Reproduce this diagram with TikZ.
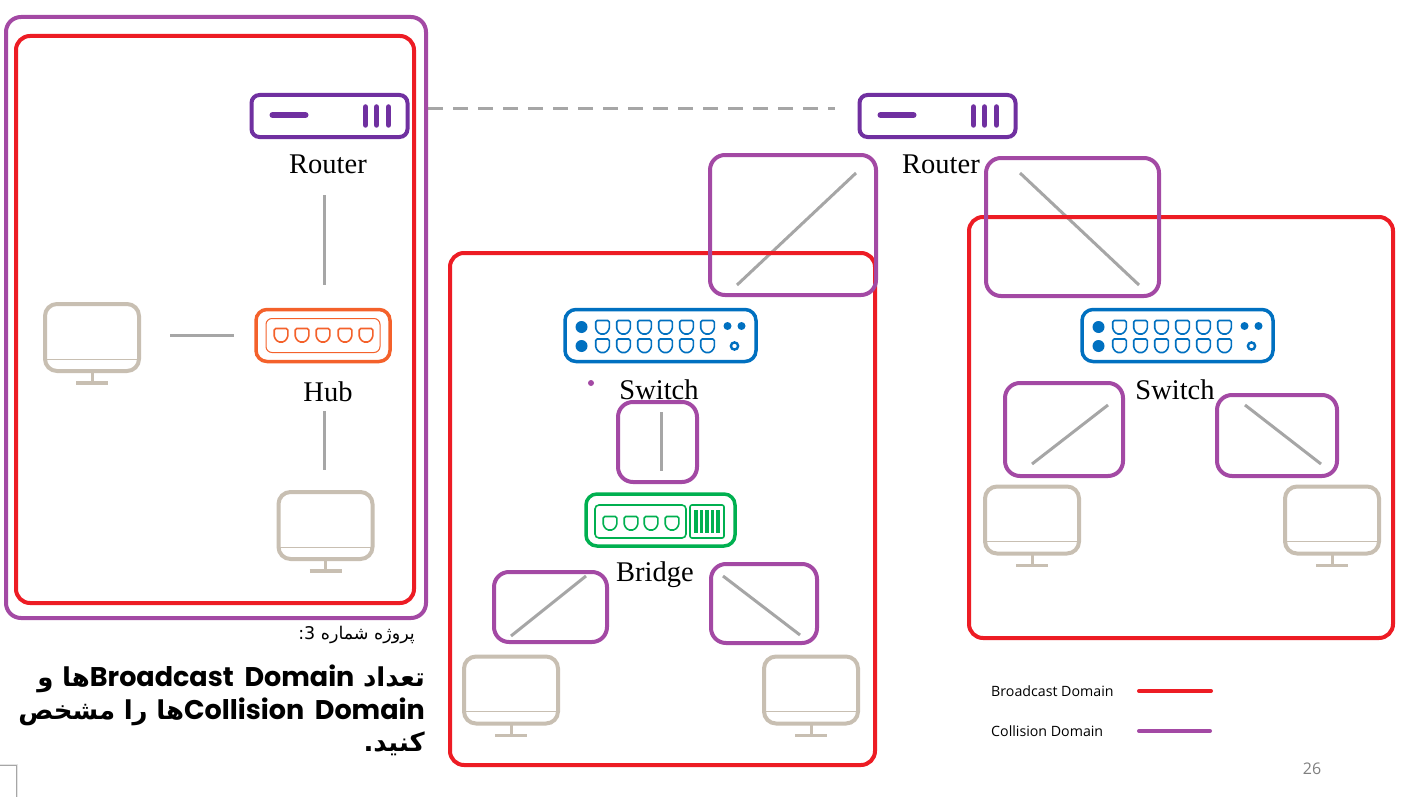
\documentclass[tikz,border=0pt]{standalone}
\usepackage{fontspec}
\setmainfont{Liberation Serif}
\newfontfamily\arabicfont[Script=Arabic]{DejaVu Sans}
\newfontfamily\latinblack{Poppins}
\newfontfamily\legendfont{Open Sans}
\TeXXeTstate=1
\definecolor{broadred}{HTML}{ED1C24}
\definecolor{collpurple}{HTML}{A349A4}
\definecolor{routerpurple}{HTML}{7030A0}
\definecolor{hubtone}{HTML}{F4612B}
\definecolor{switchblue}{HTML}{0070C0}
\definecolor{bridgegreen}{HTML}{00B050}
\definecolor{pcbeige}{HTML}{C8BFB2}
\definecolor{linkgray}{HTML}{A6A6A6}
\usetikzlibrary{
  positioning
}

\tikzset{
  port/.pic={
    \draw[line width=1.6pt, rounded corners=1.5pt] (-6.8,-6.5) -- (6.8,-6.5) -- (6.8,2.5) -- (3,7) -- (-3,7) -- (-6.8,2.5) -- cycle;
  },
  routerparts/.pic={
    \draw[routerpurple, line width=6pt, line cap=round] (-57,-1) -- (-24,-1);
    \foreach \xb in {36,47,59} {
      \draw[routerpurple, line width=5.5pt, line cap=round] (\xb,-9) -- (\xb,9);
    }
  },
  pcparts/.pic={
    \draw[pcbeige, line width=1pt] (-46,21.5) -- (46,21.5);
    \draw[pcbeige, line width=3pt] (0,33) -- (0,45);
    \draw[pcbeige, line width=3.5pt] (-16,45.5) -- (16,45.5);
  },
  switchparts/.pic={
    \foreach \xp in {-58,-37,-16,5,26,47} {
      \pic[switchblue] at (\xp,-8.5) {port};
      \pic[switchblue] at (\xp,10) {port};
    }
    \foreach \yp in {-8.5,10.5} {
      \fill[switchblue] (-79,\yp) circle (6);
    }
    \foreach \xp in {67,81} {
      \fill[switchblue] (\xp,-9.5) circle (4);
    }
    \draw[switchblue, line width=2.4pt] (74,10.5) circle (3.6);
  }
}

\begin{document}
\begin{tikzpicture}[
  x=1pt, y=-1pt,
  font=\fontsize{28.5}{32}\selectfont,
  broaddom/.style={
    rectangle, rounded corners=14pt, draw=broadred, line width=4pt, inner sep=0pt
  },
  colldom/.style={
    rectangle, rounded corners=15pt, draw=collpurple, line width=4pt, inner sep=0pt
  },
  routerbox/.style={
    rectangle, rounded corners=8pt, draw=routerpurple, line width=4pt, inner sep=0pt,
    minimum width=156pt, minimum height=42pt
  },
  hubbox/.style={
    rectangle, rounded corners=11pt, draw=hubtone, line width=3.5pt, inner sep=0pt,
    minimum width=134pt, minimum height=52pt
  },
  switchbox/.style={
    rectangle, rounded corners=11pt, draw=switchblue, line width=3.5pt, inner sep=0pt,
    minimum width=191pt, minimum height=52pt
  },
  bridgebox/.style={
    rectangle, rounded corners=11pt, draw=bridgegreen, line width=3.5pt, inner sep=0pt,
    minimum width=149pt, minimum height=52pt
  },
  pcbox/.style={
    rectangle, rounded corners=12pt, draw=pcbeige, line width=4pt, inner sep=0pt,
    minimum width=94pt, minimum height=67pt
  },
  link/.style={draw=linkgray, line width=3pt},
  devlabel/.style={inner sep=0pt, text=black},
  legendtext/.style={inner sep=0pt, anchor=west, font=\legendfont\fontsize{14.2}{16}\selectfont}
]

\useasboundingbox (0,0) rectangle (1423,797);
\fill[white] (0,0) rectangle (1423,797);

\node[routerbox] (router1) at (329.5,116) {};
\pic at (router1) {routerparts};
\node[devlabel] (router1label) at (328,164) {Router};
\node[routerbox] (router2) at (937.5,116) {};
\pic at (router2) {routerparts};
\node[devlabel] (router2label) at (941,164) {Router};

\node[hubbox] (hub1) at (323,335.5) {};
\node[rectangle, rounded corners=6pt, draw=hubtone, line width=1pt, inner sep=0pt,
  minimum width=114pt, minimum height=34pt] (hubinner) at (hub1) {};
\foreach \xp in {281,302,323,345,366} {
  \pic[hubtone] at (\xp,335) {port};
}
\node[devlabel] (hub1label) at (328,392) {Hub};

\node[switchbox] (switch1) at (660.5,335.5) {};
\pic at (switch1) {switchparts};
\node[devlabel] (switch1label) at (659,390) {Switch};
\node[switchbox] (switch2) at (1177.5,335.5) {};
\pic at (switch2) {switchparts};
\node[devlabel] (switch2label) at (1175,390) {Switch};

\node[bridgebox] (bridge1) at (660.5,520) {};
\node[rectangle, rounded corners=4pt, draw=bridgegreen, line width=1.6pt, inner sep=0pt,
  minimum width=91pt, minimum height=33pt] (bridgeports) at (640.5,521.5) {};
\node[rectangle, rounded corners=2pt, draw=bridgegreen, line width=1.6pt, inner sep=0pt,
  minimum width=34pt, minimum height=33pt] (bridgebars) at (707,521.5) {};
\foreach \xp in {610,631,651,672} {
  \pic[bridgegreen] at (\xp,523) {port};
}
\foreach \xp in {696,701.5,707,712.5,718} {
  \draw[bridgegreen, line width=3.4pt] (\xp,510) -- (\xp,533);
}
\node[devlabel] (bridge1label) at (655,575) {Bridge};

\node[pcbox] (pc1) at (92,337.5) {};
\pic at (pc1) {pcparts};
\node[pcbox] (pc2) at (325.5,525.5) {};
\pic at (pc2) {pcparts};
\node[pcbox] (pc3) at (511,690) {};
\pic at (pc3) {pcparts};
\node[pcbox] (pc4) at (811,690) {};
\pic at (pc4) {pcparts};
\node[pcbox] (pc5) at (1032,520) {};
\pic at (pc5) {pcparts};
\node[pcbox] (pc6) at (1332,520) {};
\pic at (pc6) {pcparts};

\coordinate (r2a) at (856,173);
\coordinate (r2b) at (737,285);
\coordinate (r2c) at (1020,173);
\coordinate (r2d) at (1139,285);
\coordinate (s1a) at (586,576);
\coordinate (s1b) at (511,636);
\coordinate (s1c) at (723,576);
\coordinate (s1d) at (800,635);
\coordinate (s2a) at (1108,405);
\coordinate (s2b) at (1032,464);
\coordinate (s2c) at (1245,405);
\coordinate (s2d) at (1321,464);
\coordinate (b1a) at (661,412);
\coordinate (b1b) at (661,471);
\coordinate (h1a) at (324,195);
\coordinate (h1b) at (324,285);
\coordinate (h1c) at (170,335.5);
\coordinate (h1d) at (234,335.5);
\coordinate (h1e) at (324,411);
\coordinate (h1f) at (324,470);
\coordinate (wana) at (428,109);
\coordinate (wanb) at (835,109);

\draw[link] (r2a) -- (r2b);
\draw[link] (r2c) -- (r2d);
\draw[link] (s1a) -- (s1b);
\draw[link] (s1c) -- (s1d);
\draw[link] (s2a) -- (s2b);
\draw[link] (s2c) -- (s2d);
\draw[link] (b1a) -- (b1b);
\draw[link] (h1a) -- (h1b);
\draw[link] (h1c) -- (h1d);
\draw[link] (h1e) -- (h1f);
\draw[link, dash pattern=on 15pt off 10pt] (wana) -- (wanb);

\node[colldom, minimum width=420pt, minimum height=601pt] (coll1) at (216,317.5) {};
\node[broaddom, minimum width=398pt, minimum height=567pt] (broad1) at (215,319.5) {};
\node[broaddom, minimum width=425pt, minimum height=512pt] (broad2) at (662.5,509) {};
\node[broaddom, minimum width=424pt, minimum height=421pt] (broad3) at (1181,427.5) {};
\node[colldom, minimum width=166pt, minimum height=140pt] (coll2) at (793,225) {};
\node[colldom, minimum width=173pt, minimum height=138pt] (coll3) at (1072.5,227) {};
\node[colldom, minimum width=79pt, minimum height=80pt] (coll4) at (657.5,442) {};
\node[colldom, minimum width=113pt, minimum height=70pt] (coll5) at (550.5,607) {};
\node[colldom, minimum width=106pt, minimum height=79pt] (coll6) at (764,603.5) {};
\node[colldom, minimum width=118pt, minimum height=93pt] (coll7) at (1064,429.5) {};
\node[colldom, minimum width=120pt, minimum height=81pt] (coll8) at (1277,435.5) {};

\fill[collpurple] (591,383) circle (3);

\node[inner sep=0pt, anchor=east, font=\arabicfont\fontsize{17.5}{20}\selectfont] (project) at (415,635) {\beginR پروژه شماره 3:\endR};

\node[inner sep=0pt, anchor=north east, align=right, text width=520pt,
  font=\arabicfont\bfseries\fontsize{26}{32.5}\selectfont] (question) at (425,665) {%
  \beginR تعداد {\latinblack\bfseries\fontsize{27}{32.5}\selectfont\beginL Broadcast\ \kern2pt Domain\endL}ها و\endR\\
  \beginR {\latinblack\bfseries\fontsize{27}{32.5}\selectfont\beginL Collision\ \kern2pt Domain\endL}ها را مشخص\endR\\
  \beginR کنید.\endR};

\node[legendtext] (legend1) at (991,691) {Broadcast Domain};
\node[legendtext] (legend2) at (991,731) {Collision Domain};
\coordinate[right=148pt of legend1.west] (legend1a);
\coordinate[right=220pt of legend1.west] (legend1b);
\coordinate[right=148pt of legend2.west] (legend2a);
\coordinate[right=219pt of legend2.west] (legend2b);
\draw[broadred, line width=4pt, line cap=round] (legend1a) -- (legend1b);
\draw[collpurple, line width=4pt, line cap=round] (legend2a) -- (legend2b);

\node[inner sep=0pt, text=gray, font=\legendfont\fontsize{16}{18}\selectfont] (pagenum) at (1312,769) {26};

\node[rectangle, draw=gray!20, line width=3pt, inner sep=0pt, minimum width=20pt, minimum height=40pt] (cornershadow) at (6.5,785.5) {};
\node[rectangle, draw=gray!70, fill=white, line width=0.8pt, inner sep=0pt, minimum width=20pt, minimum height=40pt] (cornerbox) at (6,785) {};

\end{tikzpicture}
\end{document}
